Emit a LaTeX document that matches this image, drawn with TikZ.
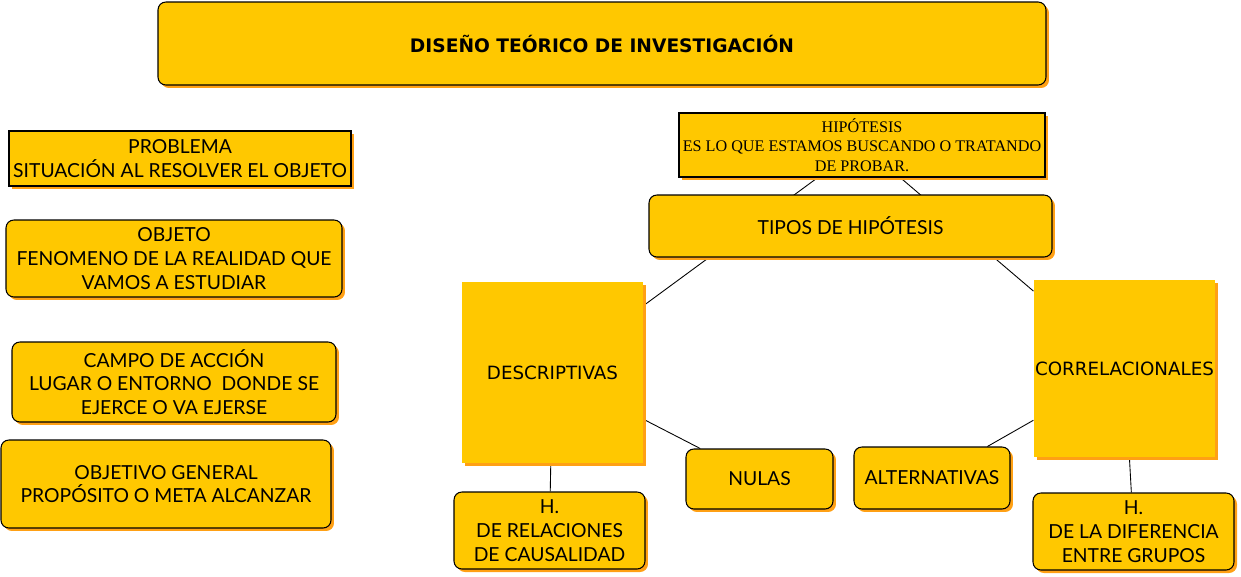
\documentclass[tikz,border=0pt]{standalone}
\usepackage{fontspec}
\setmainfont{Lato}
\newfontfamily\titlefont{DejaVu Sans}
\newfontfamily\hipfont{Liberation Serif}
\usetikzlibrary{positioning,shadows,backgrounds}
\definecolor{boxyellow}{RGB}{255,200,0}
\definecolor{boxshade}{RGB}{255,160,20}
\tikzset{
  box/.style   = {draw, rounded corners=4.5pt, align=center, fill=boxyellow, line width=0.6pt, inner sep=2pt,
                  general shadow={fill=boxshade, shadow xshift=1.7pt, shadow yshift=-1.7pt},
                  font=\fontsize{11}{13.5}\selectfont},
  sbox/.style  = {box, sharp corners},
  bigbox/.style= {box, draw=none, sharp corners, inner sep=0.5pt, font=\titlefont\fontsize{10.4}{12}\selectfont},
  sz/.style 2 args = {minimum width=#1*0.02cm, minimum height=#2*0.02cm},
  link/.style  = {draw=black, line width=0.5pt},
}

\begin{document}
\begin{tikzpicture}[x=0.02cm, y=-0.02cm]
  \useasboundingbox (0,0) rectangle (1241,576);
  % title
  \node[box, sz={888}{83}, font=\titlefont\bfseries\fontsize{10.6}{12}\selectfont] (titulo) at (602,43.5) {DISEÑO TEÓRICO DE INVESTIGACIÓN};
  % left column
  \node[sbox, sz={342}{55}] (problema) at (180,158.5) {PROBLEMA\\SITUACIÓN AL RESOLVER EL OBJETO};
  \node[box, sz={336}{77}] (objeto) at (174,258.5) {OBJETO\\FENOMENO DE LA REALIDAD QUE\\VAMOS A ESTUDIAR};
  \node[box, sz={324}{80}] (campo) at (174,382) {CAMPO DE ACCIÓN\\LUGAR O ENTORNO\ \ DONDE SE\\EJERCE O VA EJERSE};
  \node[box, sz={330}{88}] (objetivo) at (166,484) {OBJETIVO GENERAL\\PROPÓSITO O META ALCANZAR};
  % hypothesis tree
  \node[sbox, sz={366}{64}, font=\hipfont\fontsize{9.2}{11.2}\selectfont] (hip) at (862,145) {HIPÓTESIS\\ES LO QUE ESTAMOS BUSCANDO O TRATANDO\\DE PROBAR.};
  \node[box, sz={403}{62}] (tipos) at (850.5,226) {TIPOS DE HIPÓTESIS};
  \node[bigbox, sz={181}{181}] (desc) at (552.5,372.5) {DESCRIPTIVAS};
  \node[bigbox, sz={181}{177}] (corr) at (1124.5,368.5) {CORRELACIONALES};
  \node[box, sz={147}{60}] (nulas) at (759.5,479) {NULAS};
  \node[box, sz={156}{62}] (alt) at (932,478) {ALTERNATIVAS};
  \node[box, sz={191}{77}] (hrel) at (549.5,530.5) {H.\\DE RELACIONES\\DE CAUSALIDAD};
  \node[box, sz={201}{77}] (hdif) at (1133.5,531.5) {H.\\DE LA DIFERENCIA\\ENTRE GRUPOS};
  \begin{scope}[on background layer]
    \draw[link] (hip) -- (desc);
    \draw[link] (hip) -- (corr);
    \draw[link] (desc) -- (nulas);
    \draw[link] (desc) -- (hrel);
    \draw[link] (corr) -- (alt);
    \draw[link] (corr) -- (hdif);
  \end{scope}
\end{tikzpicture}
\end{document}
